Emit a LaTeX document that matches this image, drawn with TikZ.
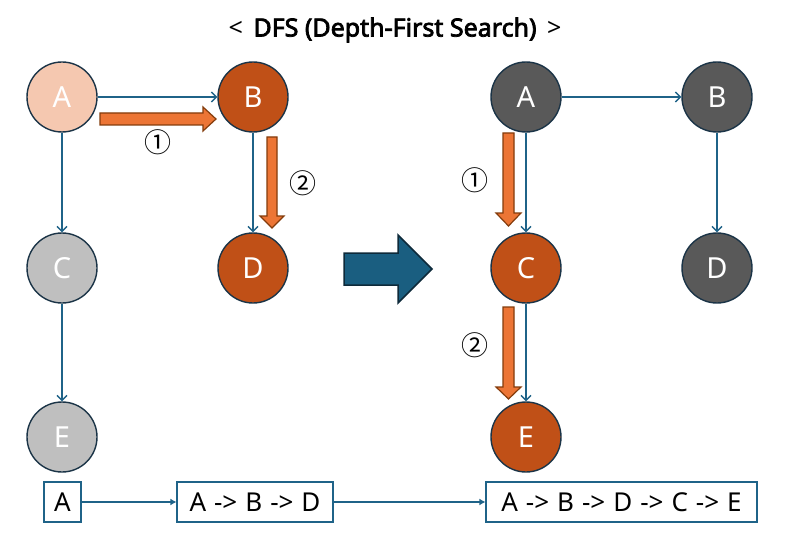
\documentclass[tikz,border=0pt]{standalone}
\usepackage{fontspec}
\setmainfont{Noto Sans}
\newfontfamily\titlebf{Noto Sans}[FakeBold=3]
\newfontfamily\symfont{Noto Sans CJK KR}
\newcommand\myseqfont{\fontsize{26}{26}\selectfont\spaceskip=8pt\relax}
\usetikzlibrary{arrows.meta}
\definecolor{edgeblue}{HTML}{1F6388}
\definecolor{outline}{HTML}{1B3447}
\definecolor{peach}{HTML}{F5C8B0}
\definecolor{rust}{HTML}{C05017}
\definecolor{lgray}{HTML}{BFBFBF}
\definecolor{dgray}{HTML}{595959}
\definecolor{oarrow}{HTML}{EC7535}
\definecolor{oborder}{HTML}{843C0C}
\definecolor{bigblue}{HTML}{1A5E80}
\definecolor{bigborder}{HTML}{0E2A3A}
\tikzset{
  vtx/.style={circle, draw=outline, line width=1.4pt, minimum size=70pt, inner sep=0pt, text=white, font=\fontsize{29}{29}\selectfont},
  edge/.style={draw=edgeblue, line width=1.5pt, -{Straight Barb[length=5pt,width=10pt,line width=1.3pt]}},
  blk/.style={fill=oarrow, draw=oborder, line width=1.2pt, line join=miter},
  bigarr/.style={fill=bigblue, draw=bigborder, line width=1.5pt},
  seqbox/.style={draw=edgeblue, line width=1.2pt, minimum height=40pt, inner sep=0pt, font=\myseqfont},
  num/.style={font=\symfont\fontsize{27}{27}\selectfont}
}
\begin{document}
\begin{tikzpicture}[x=1pt,y=-1pt]
\useasboundingbox (0,0) rectangle (791,545);
\fill[white] (0,0) rectangle (791,545);
\node (title) at (395,30) {\fontsize{25}{25}\selectfont <\hspace{4pt} {\titlebf DFS (Depth-First Search)} \hspace{4pt}>};
% left graph
\node[vtx, fill=peach] (LA) at (62,97) {A};
\node[vtx, fill=rust] (LB) at (253,97) {B};
\node[vtx, fill=lgray] (LC) at (62,268) {C};
\node[vtx, fill=rust] (LD) at (253,268) {D};
\node[vtx, fill=lgray] (LE) at (62,437) {E};
\draw[edge] (LA) -- (LB);
\draw[edge] (LA) -- (LC);
\draw[edge] (LB) -- (LD);
\draw[edge] (LC) -- (LE);
% right graph
\node[vtx, fill=dgray] (RA) at (526,97) {A};
\node[vtx, fill=dgray] (RB) at (717,97) {B};
\node[vtx, fill=rust] (RC) at (526,268) {C};
\node[vtx, fill=dgray] (RD) at (717,268) {D};
\node[vtx, fill=rust] (RE) at (526,437) {E};
\draw[edge] (RA) -- (RB);
\draw[edge] (RA) -- (RC);
\draw[edge] (RB) -- (RD);
\draw[edge] (RC) -- (RE);
% orange step arrows
\draw[blk] (100,113) -- (203,113) -- (203,107) -- (216,119) -- (203,131) -- (203,125) -- (100,125) -- cycle;
\draw[blk] (267,137) -- (277,137) -- (277,216) -- (284,216) -- (272,228) -- (260,216) -- (267,216) -- cycle;
\draw[blk] (503,133) -- (514,133) -- (514,213) -- (521,213) -- (508.5,226) -- (496,213) -- (503,213) -- cycle;
\draw[blk] (503,307) -- (514,307) -- (514,387) -- (521,387) -- (508.5,399) -- (496,387) -- (503,387) -- cycle;
\node[num] (n1) at (158,142) {①};
\node[num] (n2) at (303,183) {②};
\node[num] (n3) at (475,180) {①};
\node[num] (n4) at (475,345) {②};
% big arrow
\draw[bigarr] (344,253) -- (398,253) -- (398,235) -- (432,269) -- (398,303) -- (398,285) -- (344,285) -- cycle;
% sequence boxes
\node[seqbox, minimum width=37pt] (S1) at (62.5,502) {A};
\node[seqbox, minimum width=156pt] (S2) at (255,502) {A -> B -> D};
\node[seqbox, minimum width=271pt] (S3) at (621.5,502) {A -> B -> D -> C -> E};
\draw[draw=edgeblue, line width=1.5pt, -{Latex[length=6pt,width=7pt]}] (S1) -- (S2);
\draw[draw=edgeblue, line width=1.5pt, -{Latex[length=6pt,width=7pt]}] (S2) -- (S3);
\end{tikzpicture}
\end{document}
